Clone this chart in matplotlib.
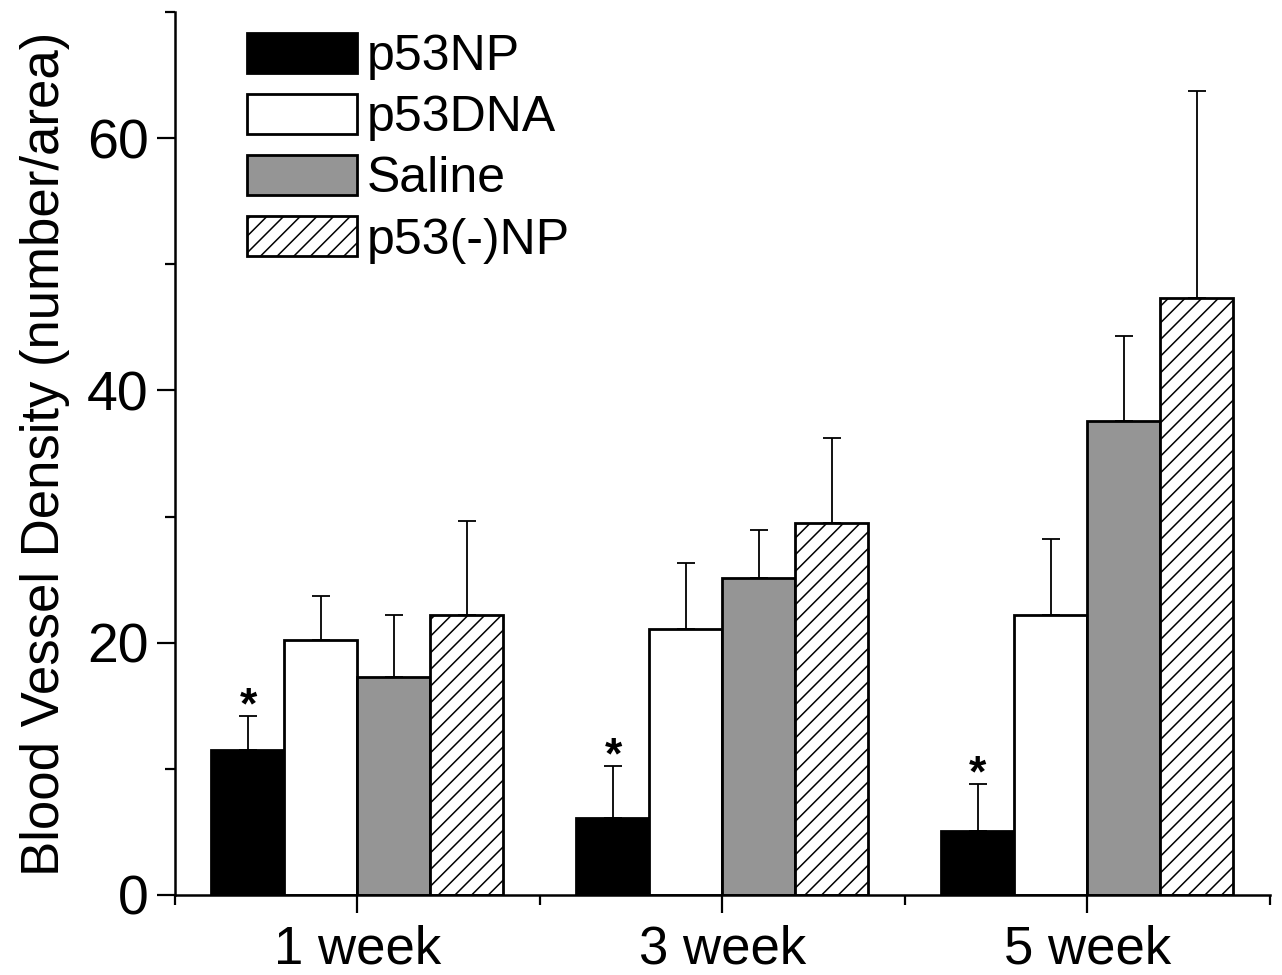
import matplotlib
matplotlib.use("Agg")
import matplotlib.pyplot as plt
import numpy as np

# ---- data ----
weeks = ["1 week", "3 week", "5 week"]
groups = ["p53NP", "p53DNA", "Saline", "p53(-)NP"]
p53np = [11.5, 6.1, 5.1]
p53np_err = [2.7, 4.15, 3.7]
p53dna = [20.2, 21.1, 22.2]
p53dna_err = [3.5, 5.2, 6.0]
saline = [17.25, 25.1, 37.6]
saline_err = [4.95, 3.8, 6.75]
p53neg = [22.2, 29.5, 47.3]
p53neg_err = [7.45, 6.75, 16.45]
signif = [True, True, True]   # asterisk over p53NP bar

INK = "#000000"; GRAY = "#959595"
plt.rcParams.update({"font.family": ["Liberation Sans", "DejaVu Sans"],
                     "hatch.linewidth": 1.1, "hatch.color": INK})

series = [(p53np, p53np_err, dict(color=INK)),
          (p53dna, p53dna_err, dict(color="white")),
          (saline, saline_err, dict(color=GRAY)),
          (p53neg, p53neg_err, dict(color="white", hatch="//"))]

fig = plt.figure(figsize=(12.82, 9.75), dpi=100)
ax = fig.add_axes([0.1365, 0.0821, 0.8541, 0.9056])

x = np.arange(1, len(weeks) + 1)
w = 0.2
offs = [-0.3, -0.1, 0.1, 0.3]
handles = []
for (vals, errs, sty), off, name in zip(series, offs, groups):
    b = ax.bar(x + off, vals, w, edgecolor=INK, linewidth=2.0, label=name, zorder=2, **sty)
    ax.errorbar(x + off, vals, yerr=[np.zeros(len(vals)), errs], fmt="none",
                ecolor=INK, elinewidth=1.3, capsize=6.5, capthick=1.3, zorder=1)
    handles.append(b)

for xi, v, e, s in zip(x + offs[0], p53np, p53np_err, signif):
    if s:
        ax.text(xi, v + e - 0.2, "*", ha="center", va="baseline",
                fontsize=32, fontweight="bold")

ax.set_xlim(0.5, 3.5)
ax.set_ylim(0, 70)
ax.set_xticks(x)
ax.set_xticklabels(weeks, fontsize=38)
ax.set_xticks(np.arange(0.5, 3.6, 1.0), minor=True)
ax.set_yticks([0, 20, 40, 60])
ax.set_yticks([10, 30, 50, 70], minor=True)
ax.tick_params(axis="y", labelsize=40)
ax.tick_params(which="major", length=13, width=1.6, direction="out")
ax.tick_params(which="minor", length=7, width=1.6, direction="out")
ax.tick_params(axis="x", pad=8)
ax.tick_params(axis="y", pad=6)
for sp in ("top", "right"):
    ax.spines[sp].set_visible(False)
for sp in ("left", "bottom"):
    ax.spines[sp].set_linewidth(1.8)
ax.set_ylabel("Blood Vessel Density (number/area)", fontsize=38, labelpad=12)

ax.legend(handles=handles, labels=groups, loc="upper left",
          bbox_to_anchor=(0.0658, 0.976), frameon=False, fontsize=36,
          handlelength=2.2, handleheight=0.84, handletextpad=0.2,
          labelspacing=0.28, borderpad=0, borderaxespad=0)

fig.savefig("out.png", dpi=100)
